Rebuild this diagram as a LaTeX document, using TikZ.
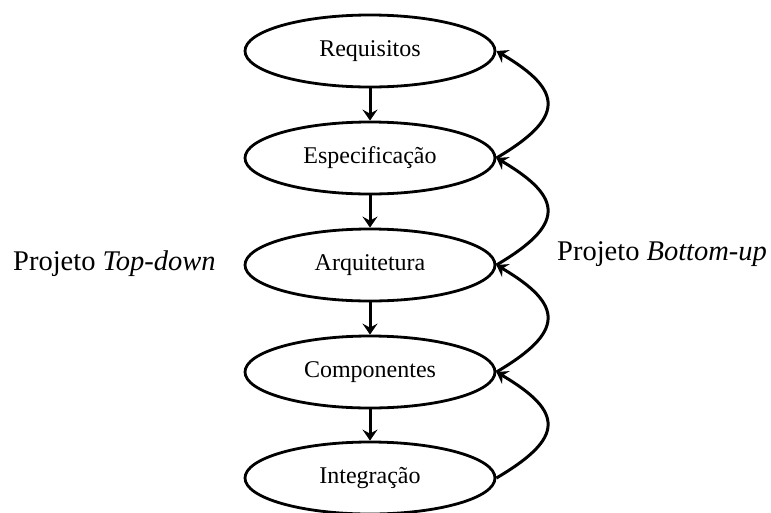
\documentclass[tikz,border=0pt]{standalone}
\usepackage{fontspec}
\setmainfont{Liberation Serif}
\usetikzlibrary{shapes.geometric,arrows.meta}
\begin{document}
\begin{tikzpicture}[x=1pt,y=-1pt,
  stage/.style={ellipse,draw,line width=2.8pt,minimum width=250pt,minimum height=72pt,
    inner sep=0pt,font=\fontsize{24}{28}\selectfont},
  flow/.style={line width=3pt,-{Stealth[length=11pt,width=15pt,inset=4pt]}},
  loopback/.style={line width=3pt,-{Stealth[length=11pt,width=15pt,inset=4pt]}},
  sidelabel/.style={anchor=base west,inner sep=0pt,font=\fontsize{28.5}{32}\selectfont}]
  \useasboundingbox (0,0) rectangle (771,512);

  % stages of the design flow
  \node[stage] (req)  at (370,51)  {Requisitos};
  \node[stage] (spec) at (370,158) {Especificação};
  \node[stage] (arch) at (370,265) {Arquitetura};
  \node[stage] (comp) at (370,372) {Componentes};
  \node[stage] (intg) at (370,478) {Integração};

  % top-down refinement
  \draw[flow] (req)  -- (spec);
  \draw[flow] (spec) -- (arch);
  \draw[flow] (arch) -- (comp);
  \draw[flow] (comp) -- (intg);

  % bottom-up feedback
  \draw[loopback] (spec.east) .. controls +(68,-40) and +(68,40) .. (req.east);
  \draw[loopback] (arch.east) .. controls +(68,-40) and +(68,40) .. (spec.east);
  \draw[loopback] (comp.east) .. controls +(68,-40) and +(68,40) .. (arch.east);
  \draw[loopback] (intg.east) .. controls +(68,-40) and +(68,40) .. (comp.east);

  % side labels
  \node[sidelabel] (td) at (13,270)  {Projeto \textit{Top-down}};
  \node[sidelabel] (bu) at (557,260) {Projeto \textit{Bottom-up}};
\end{tikzpicture}
\end{document}
